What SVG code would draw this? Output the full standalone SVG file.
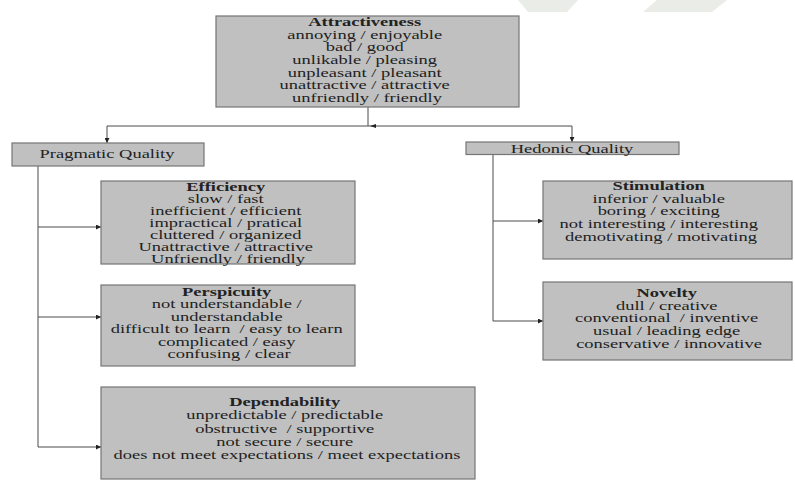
<svg xmlns="http://www.w3.org/2000/svg" width="795" height="484" viewBox="0 0 795 484">
  <defs>
    <style>
      .box { fill: #c0c0c0; stroke: #757575; stroke-width: 1.2; }
      .t { font-family: "Liberation Serif", "Times New Roman", serif; font-size: 12.5px; fill: #222222; text-anchor: middle; }
      .b { font-weight: bold; }
      .ln { fill: none; stroke: #4a4a4a; stroke-width: 1; }
      .wm { fill: #eaece8; }
    </style>
    <marker id="ah" viewBox="0 0 10 10" refX="10" refY="5" markerWidth="6" markerHeight="5" markerUnits="userSpaceOnUse" orient="auto">
      <path d="M0,0 L10,5 L0,10 z" fill="#222"/>
    </marker>
  </defs>
  <rect width="795" height="484" fill="#ffffff"/>
  <g id="watermark">
    <polygon class="wm" points="518,0 578,0 567,12 528,12"/>
    <polygon class="wm" points="657,0 727,0 712,12 643,12"/>
  </g>

  <g id="connectors">
    <path class="ln" d="M368,107 V126"/>
    <path class="ln" d="M107,126 H572"/>
    <polygon points="370,126 376,124 376,128" fill="#222"/>
    <path class="ln" d="M107,126 V143" marker-end="url(#ah)"/>
    <path class="ln" d="M572,126 V142" marker-end="url(#ah)"/>
    <path class="ln" d="M38,166 V447"/>
    <path class="ln" d="M38,227 H101" marker-end="url(#ah)"/>
    <path class="ln" d="M38,317 H101" marker-end="url(#ah)"/>
    <path class="ln" d="M38,447 H101" marker-end="url(#ah)"/>
    <path class="ln" d="M493,154 V321"/>
    <path class="ln" d="M493,221 H543" marker-end="url(#ah)"/>
    <path class="ln" d="M493,321 H543" marker-end="url(#ah)"/>
  </g>

  <g id="attractiveness">
    <rect class="box" x="216" y="16" width="303" height="91"/>
    <text class="t" transform="translate(367 0) scale(1.48 1)">
      <tspan class="b" x="0" y="26">Attractiveness</tspan>
      <tspan x="0" y="38.7">annoying / enjoyable</tspan>
      <tspan x="0" y="51.4">bad / good</tspan>
      <tspan x="0" y="64">unlikable / pleasing</tspan>
      <tspan x="0" y="76.7">unpleasant / pleasant</tspan>
      <tspan x="0" y="89.4">unattractive / attractive</tspan>
      <tspan x="0" y="102">unfriendly / friendly</tspan>
    </text>
  </g>

  <g id="pragmatic">
    <rect class="box" x="12" y="143" width="192" height="23"/>
    <text class="t" transform="translate(107 0) scale(1.48 1)"><tspan x="0" y="158.5">Pragmatic Quality</tspan></text>
  </g>

  <g id="hedonic">
    <rect class="box" x="466" y="142" width="213" height="12.5"/>
    <text class="t" transform="translate(572 0) scale(1.48 1)"><tspan x="0" y="152.5">Hedonic Quality</tspan></text>
  </g>

  <g id="efficiency">
    <rect class="box" x="101" y="181" width="254" height="83"/>
    <text class="t" transform="translate(228 0) scale(1.48 1)">
      <tspan class="b" x="0" y="191">Efficiency</tspan>
      <tspan x="0" y="203">slow / fast</tspan>
      <tspan x="0" y="215">inefficient / efficient</tspan>
      <tspan x="0" y="227">impractical / pratical</tspan>
      <tspan x="0" y="239">cluttered / organized</tspan>
      <tspan x="0" y="251">Unattractive / attractive</tspan>
      <tspan x="0" y="263">Unfriendly / friendly</tspan>
    </text>
  </g>

  <g id="perspicuity">
    <rect class="box" x="101" y="285" width="254" height="81"/>
    <text class="t" transform="translate(229 0) scale(1.48 1)">
      <tspan class="b" x="0" y="296">Perspicuity</tspan>
      <tspan x="0" y="308.4">not understandable /</tspan>
      <tspan x="0" y="320.8">understandable</tspan>
      <tspan x="0" y="333.2">difficult to learn&#160; / easy to learn</tspan>
      <tspan x="0" y="345.6">complicated / easy</tspan>
      <tspan x="0" y="358">confusing / clear</tspan>
    </text>
  </g>

  <g id="dependability">
    <rect class="box" x="101" y="387" width="374" height="92"/>
    <text class="t" transform="translate(287 0) scale(1.48 1)">
      <tspan class="b" x="0" y="406">Dependability</tspan>
      <tspan x="0" y="419.3">unpredictable / predictable</tspan>
      <tspan x="0" y="432.6">obstructive&#160; / supportive</tspan>
      <tspan x="0" y="445.9">not secure / secure</tspan>
      <tspan x="0" y="459">does not meet expectations / meet expectations</tspan>
    </text>
  </g>

  <g id="stimulation">
    <rect class="box" x="543" y="181" width="249" height="78"/>
    <text class="t" transform="translate(661 0) scale(1.48 1)">
      <tspan class="b" x="0" y="190">Stimulation</tspan>
      <tspan x="0" y="202.8">inferior / valuable</tspan>
      <tspan x="0" y="215.5">boring / exciting</tspan>
      <tspan x="0" y="228.3">not interesting / interesting</tspan>
      <tspan x="0" y="241">demotivating / motivating</tspan>
    </text>
  </g>

  <g id="novelty">
    <rect class="box" x="543" y="282" width="249" height="78"/>
    <text class="t" transform="translate(669 0) scale(1.48 1)">
      <tspan class="b" x="0" y="297">Novelty</tspan>
      <tspan x="0" y="309.8">dull / creative</tspan>
      <tspan x="0" y="322.5">conventional&#160; / inventive</tspan>
      <tspan x="0" y="335.3">usual / leading edge</tspan>
      <tspan x="0" y="348">conservative / innovative</tspan>
    </text>
  </g>
</svg>
